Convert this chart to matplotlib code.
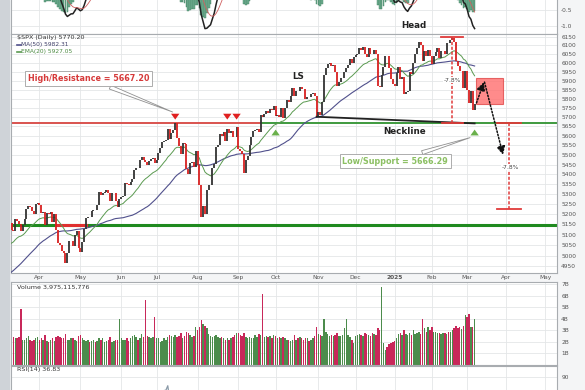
import matplotlib
matplotlib.use('Agg')
import matplotlib.pyplot as plt
import numpy as np
import pandas as pd
from matplotlib.patches import Rectangle

# $SPX daily closes. Dec 2023 - Mar 7 2024 is only warm-up for the averages
closes_dec23 = [4719.55, 4719.19, 4740.56, 4768.37, 4698.35, 4746.75, 4754.63, 4774.75, 4781.58, 4783.35, 4769.83]
closes_jan24 = [4742.83, 4704.81, 4688.68, 4697.24, 4763.54, 4756.50, 4783.45, 4780.24, 4783.83, 4765.98, 4739.21,
                4780.94, 4839.81, 4850.43, 4864.60, 4868.55, 4894.16, 4890.97, 4927.93, 4924.97, 4845.65]
closes_feb24 = [4906.19, 4958.61, 4942.81, 4954.23, 4995.06, 4997.91, 5026.61, 5021.84, 4953.17, 5000.62,
                5029.73, 5005.57, 4975.51, 4981.80, 5087.03, 5088.80, 5069.53, 5078.18, 5069.76, 5096.27]
closes_mar24 = [5137.08, 5130.95, 5078.65, 5104.76, 5157.36, 5123.69, 5117.94, 5175.27, 5165.31, 5150.48,
                5117.09, 5149.42, 5178.51, 5224.62, 5241.53, 5234.18, 5218.19, 5203.58, 5248.49, 5254.35]
closes_apr24 = [5243.77, 5205.81, 5211.49, 5147.21, 5204.34, 5202.39, 5209.91, 5160.64, 5199.06, 5123.41, 5061.82,
                5051.41, 5022.21, 5011.12, 4967.23, 5010.60, 5070.55, 5071.63, 5048.42, 5099.96, 5116.17, 5035.69]
closes_may24 = [5018.39, 5064.20, 5127.79, 5180.74, 5187.70, 5187.67, 5214.08, 5222.68, 5221.42, 5246.68, 5308.15,
                5297.10, 5303.27, 5308.13, 5321.41, 5307.01, 5267.84, 5304.72, 5306.04, 5266.95, 5235.48, 5277.51]
closes_jun24 = [5283.40, 5291.34, 5354.03, 5352.96, 5346.99, 5360.79, 5375.32, 5421.03, 5433.74, 5431.60,
                5473.23, 5487.03, 5473.17, 5464.62, 5447.87, 5469.30, 5477.90, 5482.87, 5460.48]
closes_jul24 = [5475.09, 5509.01, 5537.02, 5567.19, 5572.85, 5576.98, 5633.91, 5584.54, 5615.35, 5631.22, 5667.20,
                5588.27, 5544.59, 5505.00, 5564.41, 5555.74, 5427.13, 5399.22, 5459.10, 5463.54, 5436.44, 5522.30]
closes_aug24 = [5446.68, 5346.56, 5186.33, 5240.03, 5199.50, 5319.31, 5344.16, 5344.39, 5434.43, 5455.21, 5543.22,
                5554.25, 5608.25, 5597.12, 5620.85, 5570.64, 5634.61, 5616.84, 5625.80, 5592.18, 5591.96, 5648.40]
closes_sep24 = [5528.93, 5520.07, 5503.41, 5408.42, 5471.05, 5495.52, 5554.13, 5595.76, 5626.02, 5633.09,
                5634.58, 5618.26, 5713.64, 5702.55, 5718.57, 5732.93, 5722.26, 5745.37, 5738.17, 5762.48]
closes_oct24 = [5708.75, 5709.54, 5699.94, 5751.07, 5695.94, 5751.13, 5792.04, 5780.05, 5815.03, 5859.85, 5815.26,
                5842.47, 5841.47, 5864.67, 5853.98, 5851.20, 5797.42, 5809.86, 5808.12, 5823.52, 5832.92, 5813.67, 5705.45]
closes_nov24 = [5728.80, 5712.69, 5782.76, 5929.04, 5973.10, 5995.54, 6001.35, 5983.99, 5985.38, 5949.17,
                5870.62, 5893.62, 5916.98, 5917.11, 5948.71, 5969.34, 5987.37, 6021.63, 5998.74, 6032.38]
closes_dec24 = [6047.15, 6049.88, 6086.49, 6075.11, 6090.27, 6052.85, 6034.91, 6084.19, 6051.25, 6051.09, 6074.08,
                6050.61, 5872.16, 5867.08, 5930.85, 5974.07, 6040.04, 6037.59, 5970.84, 5906.94, 5881.63]
closes_jan25 = [5868.55, 5942.47, 5975.38, 5909.03, 5918.25, 5827.04, 5836.22, 5842.91, 5949.91, 5937.34,
                5996.66, 6049.24, 6086.37, 6118.71, 6101.24, 6012.28, 6067.70, 6039.31, 6071.17, 6040.53]
closes_feb25 = [5994.57, 6037.88, 6061.48, 6083.57, 6025.99, 6066.44, 6068.50, 6051.97, 6115.07, 6114.63,
                6129.58, 6144.15, 6117.52, 6013.13, 5983.25, 5955.25, 5956.06, 5861.57, 5954.50]
closes_mar25 = [5849.72, 5778.15, 5842.63, 5738.52, 5770.20]

# volume in billions, Mar 8 2024 .. Mar 7 2025 (shown part only)
vol_mar24 = [2.6, 2.4, 2.3, 2.3, 2.4, 4.9, 2.2, 2.2, 2.3, 2.5, 2.2, 2.1, 2.2, 2.3, 2.4]
vol_apr24 = [2.2, 2.3, 2.2, 2.6, 2.1, 2.0, 2.2, 2.3, 2.1, 2.4, 2.5, 2.4, 2.3, 2.3, 2.7, 2.2, 2.2, 2.3, 2.3, 2.2, 2.1, 2.5]
vol_may24 = [2.6, 2.3, 2.2, 2.1, 2.2, 2.0, 2.1, 2.2, 2.0, 2.1, 2.3, 2.2, 2.3, 2.0, 2.1, 2.2, 2.4, 2.0, 2.1, 2.2, 2.2, 4.0]
vol_jun24 = [2.3, 2.2, 2.2, 2.3, 2.1, 2.3, 2.5, 2.6, 2.4, 2.2, 2.3, 2.7, 2.4, 5.6, 2.5, 2.4, 2.3, 2.4, 4.2]
vol_jul24 = [2.3, 2.3, 2.0, 2.1, 2.3, 2.2, 2.4, 2.6, 2.5, 2.4, 2.6, 2.4, 2.5, 2.8, 2.3, 2.5, 2.9, 2.8, 2.6, 2.4, 2.5, 3.3]
vol_aug24 = [3.0, 3.3, 3.9, 3.6, 3.4, 3.2, 2.7, 2.5, 2.4, 2.5, 2.6, 2.4, 2.3, 2.4, 2.3, 2.2, 2.3, 2.2, 2.3, 2.4, 2.6, 2.8]
vol_sep24 = [2.8, 2.6, 2.5, 2.8, 2.4, 2.3, 2.4, 2.3, 2.3, 2.6, 2.4, 2.7, 2.6, 6.2, 2.4, 2.5, 2.4, 2.5, 2.3, 2.6]
vol_oct24 = [2.5, 2.3, 2.4, 2.3, 2.4, 2.3, 2.2, 2.2, 2.1, 2.2, 2.6, 2.2, 2.3, 2.4, 2.3, 2.2, 2.3, 2.3, 2.1, 2.2, 2.3, 2.5, 3.3]
vol_nov24 = [2.7, 2.6, 2.5, 4.0, 2.9, 2.7, 2.5, 2.6, 2.5, 2.6, 2.8, 2.5, 2.5, 2.6, 3.2, 4.0, 2.6, 2.4, 2.2, 1.9]
vol_dec24 = [2.5, 2.6, 2.7, 2.6, 2.5, 2.8, 2.7, 2.6, 2.5, 2.8, 2.7, 2.6, 3.2, 3.0, 6.8, 1.9, 1.3, 1.6, 1.8, 1.9, 2.0]
vol_jan25 = [2.1, 2.3, 2.7, 2.8, 2.6, 3.0, 2.7, 2.6, 2.8, 2.6, 3.0, 2.7, 2.8, 2.9, 2.7, 4.0, 3.2, 2.9, 3.3, 3.0]
vol_feb25 = [3.3, 2.9, 2.9, 2.8, 2.8, 2.7, 2.8, 2.8, 2.7, 2.9, 2.9, 3.0, 3.2, 3.4, 3.2, 3.3, 3.1, 3.4, 4.3]
vol_mar25 = [4.2, 4.4, 3.3, 3.3, 3.98]

price_ticks = list(range(4950, 6151, 50))
vol_ticks = [1, 2, 3, 4, 5, 6, 7]

closes = np.array(closes_dec23 + closes_jan24 + closes_feb24 + closes_mar24 + closes_apr24 + closes_may24
                  + closes_jun24 + closes_jul24 + closes_aug24 + closes_sep24 + closes_oct24 + closes_nov24
                  + closes_dec24 + closes_jan25 + closes_feb25 + closes_mar25)
volume = np.array(vol_mar24 + vol_apr24 + vol_may24 + vol_jun24 + vol_jul24 + vol_aug24 + vol_sep24
                  + vol_oct24 + vol_nov24 + vol_dec24 + vol_jan25 + vol_feb25 + vol_mar25)

hol = ['2023-12-25', '2024-01-01', '2024-01-15', '2024-02-19', '2024-03-29', '2024-05-27', '2024-06-19',
       '2024-07-04', '2024-09-02', '2024-11-28', '2024-12-25', '2025-01-01', '2025-01-09', '2025-01-20',
       '2025-02-17', '2025-04-18']
dates = pd.date_range('2023-12-14', '2025-05-09', freq=pd.offsets.CustomBusinessDay(holidays=hol))
start = 57  # Mar 8 2024 = first shown bar
xall = np.arange(len(dates)) - start
n = len(closes)

def dx(s):
    return dates.get_loc(pd.Timestamp(s)) - start

s = pd.Series(closes)
ma50 = s.rolling(50).mean().values
ema20 = s.ewm(span=20, adjust=False).mean().values
e12 = s.ewm(span=12).mean()
e26 = s.ewm(span=26).mean()
ppo = (e12 - e26) / e26 * 100
sig = ppo.ewm(span=9).mean()
hist = ppo - sig
d = s.diff()
up = d.clip(lower=0).ewm(alpha=1/14, adjust=False).mean()
dn = (-d.clip(upper=0)).ewm(alpha=1/14, adjust=False).mean()
rsi = (100 - 100 / (1 + up / dn)).values

xs = xall[start:n]
c = closes[start:n]
o = closes[start - 1:n - 1]
upday = c >= o

W, H = 585, 390
L, Wd = 11 / W, 546 / W
xl = (-0.3, 293.3)
fig = plt.figure(figsize=(5.85, 3.9), dpi=100, facecolor='#f4f5f6')
fig.patches.append(Rectangle((0, 0), 9 / W, 1, transform=fig.transFigure, color='#cfd3d8', zorder=0))

# month ticks
mt, ml = [], []
for m in pd.period_range('2024-04', '2025-05', freq='M'):
    i = np.searchsorted(dates, m.start_time)
    mt.append(i - start)
    ml.append('2025' if m.month == 1 else m.strftime('%b'))

gridc = '#e4e6e8'
lab = dict(fontsize=4.2, color='#555555')

def style(ax):
    ax.set_xlim(*xl)
    ax.set_facecolor('white')
    ax.set_xticks(mt)
    ax.grid(color=gridc, lw=0.6)
    ax.set_axisbelow(True)
    ax.yaxis.tick_right()
    ax.tick_params(length=0, labelsize=4.2, labelcolor='#555555', pad=3)
    for sp in ax.spines.values():
        sp.set_color('#a8acb0')
        sp.set_linewidth(0.8)

# PPO panel (top, cut)
axp = fig.add_axes([L, 1 - 34 / H, Wd, 34 / H], zorder=1)
style(axp)
axp.spines['top'].set_visible(False)
axp.bar(xs, hist.values[start:n], width=0.9, color='#6fae90', edgecolor='#3f7f60', lw=0.3)
axp.plot(xs, ppo.values[start:n], color='#222222', lw=1.1)
axp.plot(xs, sig.values[start:n], color='#d06060', lw=0.6)
axp.set_ylim(-1.267, -0.167)
axp.set_yticks([-0.5, -1.0], ['-0.5', '-1.0'])
axp.set_xticklabels([])

# price panel
ax = fig.add_axes([L, 117 / H, Wd, 239 / H], zorder=3)
style(ax)
ax.set_yscale('log')
ax.set_ylim(4919, 6166)
ax.set_yticks(price_ticks, [str(t) for t in price_ticks])
ax.minorticks_off()
ax.set_xticks(mt, ml)
ax.tick_params(axis='x', pad=1.2)
for t in ax.get_xticklabels():
    if t.get_text() == '2025':
        t.set_fontweight('bold')

ax.plot(xall[:n], ma50, color='#50508c', lw=0.8, zorder=3)
ax.plot(xall[:n], ema20, color='#5a9a50', lw=0.7, zorder=3)
ax.vlines(xs, np.minimum(o, c), np.maximum(o, c), colors=np.where(upday, '#333333', '#d82020'), lw=1.3, zorder=4)

# support / resistance lines
ax.plot([xl[0], dx('2024-09-19')], [5667.2, 5667.2], color='#d9534f', lw=1.4, zorder=2)
ax.plot([dx('2024-09-19'), xl[1]], [5666.29, 5666.29], color='#3e9a3e', lw=1.4, zorder=2)
ax.plot(list(xl), [5145, 5145], color='#1f8a1f', lw=2.2, zorder=2)
ax.plot([dx('2024-04-12'), dx('2024-05-06')], [5145, 5145], color='#e03030', lw=2.2, zorder=2)
ax.plot([dx('2024-10-31'), dx('2025-03-07')], [5702, 5666.29], color='#222222', lw=1.3, zorder=5)

arr = dict(arrowstyle='simple,head_width=1.0,head_length=0.7,tail_width=0.45', lw=0)
for dday in ['2024-07-16', '2024-08-23', '2024-08-30']:
    ax.annotate('', xy=(dx(dday), 5672), xytext=(dx(dday), 5722),
                arrowprops=dict(arr, color='#e02020', mutation_scale=6), zorder=6)
for dday in ['2024-10-01', '2025-03-07']:
    ax.annotate('', xy=(dx(dday), 5648), xytext=(dx(dday), 5592),
                arrowprops=dict(arr, color='#6ab04c', mutation_scale=6), zorder=6)

# head measurement
xh = dx('2025-02-19')
red = '#e03a3a'
ax.plot([xh - 6, xh + 6], [6147.43, 6147.43], color=red, lw=1.3, zorder=6)
ax.plot([xh, xh], [6147.43, 5666.29], color=red, lw=1.1, ls=(0, (2, 1.2)), zorder=6)
ax.plot([xh - 5.5, xh + 6], [5666.29, 5666.29], color=red, lw=1.3, zorder=6)
ax.text(xh, 5903, '-7.8%', fontsize=4.3, color='#444444', ha='center', va='center', zorder=7,
        bbox=dict(fc='white', ec='none', pad=0.3))

# projection
xe = dx('2025-03-07')
ax.add_patch(Rectangle((xe + 0.5, 5771), 15, 5915 - 5771, fc='#ff6e6e', ec='#e04848', lw=0.8, alpha=0.8, zorder=5))
dot = dict(arrowstyle='-|>,head_width=0.25,head_length=0.5', color='#111111', lw=1.1, ls=(0, (1, 1.2)), shrinkA=0, shrinkB=0)
ax.annotate('', xy=(254, 5892), xytext=(250, 5777), arrowprops=dot, zorder=7)
ax.annotate('', xy=(264.3, 5500), xytext=(254.3, 5892), arrowprops=dot, zorder=7)
xm = 267.5
ax.plot([xm - 6.3, xm + 6.3], [5666.29, 5666.29], color=red, lw=1.3, zorder=6)
ax.plot([xm, xm], [5666.29, 5224.3], color=red, lw=1.1, ls=(0, (2, 1.2)), zorder=6)
ax.plot([xm - 6.3, xm + 6.3], [5224.3, 5224.3], color=red, lw=1.3, zorder=6)
ax.text(xm + 0.5, 5437, '-7.8%', fontsize=4.3, color='#444444', ha='center', va='center', zorder=7,
        bbox=dict(fc='white', ec='none', pad=0.3))

# labels
box = dict(boxstyle='square,pad=0.35', fc='white', ec='#a0a0a0', lw=0.6)
wedge = dict(arrowstyle='wedge,tail_width=0.5', fc='white', ec='#909090', lw=0.6)
ax.annotate('High/Resistance = 5667.20', xy=(dx('2024-07-16'), 5722), xytext=(41.3, 5912),
            fontsize=5.8, fontweight='bold', color='#d63a3a', ha='center', va='center',
            bbox=box, arrowprops=wedge, zorder=8)
ax.annotate('Low/Support = 5666.29', xy=(xe - 1, 5595), xytext=(206.3, 5468),
            fontsize=5.8, fontweight='bold', color='#8cc063', ha='center', va='center',
            bbox=box, arrowprops=wedge, zorder=8)
ax.text(154.2, 5923, 'LS', fontsize=6.3, fontweight='bold', color='#222222', ha='center', va='center', zorder=8)
ax.text(211.1, 5622, 'Neckline', fontsize=6.3, fontweight='bold', color='#222222', ha='center', va='center', zorder=8)
ax.text(216.5, 6214, 'Head', fontsize=6.3, fontweight='bold', color='#222222', ha='center', va='center',
        zorder=8, clip_on=False)

ax.text(6 / 546, 1 - 3.5 / 239, '\\$SPX (Daily) 5770.20', transform=ax.transAxes, fontsize=4.6, color='#333333', va='center')
ax.plot([6 / 546, 10 / 546], [1 - 11 / 239] * 2, transform=ax.transAxes, color='#50508c', lw=1.2)
ax.text(10 / 546, 1 - 11 / 239, 'MA(50) 5982.31', transform=ax.transAxes, fontsize=4.2, color='#40406a', va='center')
ax.plot([6 / 546, 10 / 546], [1 - 18 / 239] * 2, transform=ax.transAxes, color='#5a9a50', lw=1.2)
ax.text(10 / 546, 1 - 18 / 239, 'EMA(20) 5927.05', transform=ax.transAxes, fontsize=4.2, color='#4a8a40', va='center')

# volume panel
axv = fig.add_axes([L, 25 / H, Wd, 83 / H], zorder=2)
style(axv)
axv.bar(xs, volume, width=0.78, color=np.where(upday, '#4c8c4c', '#c8285a'), lw=0)
axv.set_ylim(0, 7.2)
axv.set_yticks(vol_ticks, [f'{v}B' for v in vol_ticks])
axv.set_xticklabels([])
axv.text(6 / 546, 1 - 5 / 83, 'Volume 3,975,115,776', transform=axv.transAxes, fontsize=4.6, color='#333333', va='center')

# RSI panel (bottom, cut)
axr = fig.add_axes([L, 0, Wd, 24 / H], zorder=2)
style(axr)
axr.spines['bottom'].set_visible(False)
axr.plot(xs, rsi[start:n], color='#8a9aa8', lw=0.9)
axr.set_ylim(77.6, 100.5)
axr.set_yticks([90], ['90'])
axr.set_xticklabels([])
axr.text(6 / 546, 1 - 4 / 24, 'RSI(14) 36.83', transform=axr.transAxes, fontsize=4.6, color='#333333', va='center')

fig.savefig('out.png', dpi=100, facecolor=fig.get_facecolor())
